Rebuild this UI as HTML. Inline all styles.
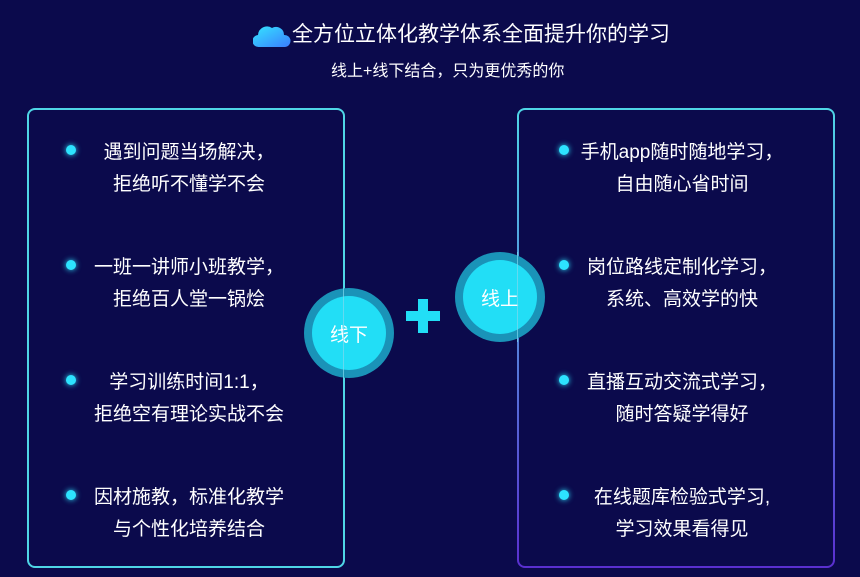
<!DOCTYPE html>
<html><head><meta charset="utf-8"><style>
body{margin:0;width:860px;height:577px;background:#0b0a4c;overflow:hidden;position:relative;font-family:"Liberation Sans","Noto Sans CJK SC",sans-serif;color:#fff}
.a{position:absolute}
.box{position:absolute;top:108px;width:318px;height:460px;border:2px solid #4fd6e6;border-radius:8px;box-sizing:border-box}
.box2{border:2px solid transparent;background:linear-gradient(#0b0a4c,#0b0a4c) padding-box,linear-gradient(#4fd6e6,#5a2fd0) border-box}
.t{position:absolute;width:250px;text-align:center;font-size:19px;line-height:32px}
.dot{position:absolute;width:10px;height:10px;border-radius:50%;background:#2de3ff;box-shadow:0 0 6px #2de3ff}
.c{position:absolute;border-radius:50%;background:#1a93b8}
.c div{position:absolute;left:8px;top:8px;right:8px;bottom:8px;border-radius:50%;background:#22def6;color:#fff;font-size:19px;display:flex;align-items:center;justify-content:center}
</style></head><body>
<svg class="a" style="left:253px;top:22px" width="38" height="26"><defs><linearGradient id="g" x1="0" y1="0" x2="1" y2="1"><stop offset="0" stop-color="#35e6ff"/><stop offset="1" stop-color="#3a7dff"/></linearGradient></defs><path d="M6 25 A6 6 0 0 1 5 13 A9 9 0 0 1 19 6 A8 8 0 0 1 31 13 A6 6 0 0 1 32 25 Z" fill="url(#g)"/></svg>
<div class="a" style="left:292px;top:20px;font-size:21px;line-height:30px">全方位立体化教学体系全面提升你的学习</div>
<div class="a" style="left:331px;top:60px;font-size:16px;line-height:24px">线上+线下结合，只为更优秀的你</div>
<div class="box" style="left:27px"></div>
<div class="box box2" style="left:517px"></div>
<div class="dot" style="left:66px;top:145px"></div><div class="t" style="left:64px;top:137px">遇到问题当场解决，<br>拒绝听不懂学不会</div>
<div class="dot" style="left:66px;top:260px"></div><div class="t" style="left:64px;top:252px">一班一讲师小班教学，<br>拒绝百人堂一锅烩</div>
<div class="dot" style="left:66px;top:375px"></div><div class="t" style="left:64px;top:367px">学习训练时间1:1，<br>拒绝空有理论实战不会</div>
<div class="dot" style="left:66px;top:490px"></div><div class="t" style="left:64px;top:482px">因材施教，标准化教学<br>与个性化培养结合</div>
<div class="dot" style="left:559px;top:145px"></div><div class="t" style="left:557px;top:137px">手机app随时随地学习，<br>自由随心省时间</div>
<div class="dot" style="left:559px;top:260px"></div><div class="t" style="left:557px;top:252px">岗位路线定制化学习，<br>系统、高效学的快</div>
<div class="dot" style="left:559px;top:375px"></div><div class="t" style="left:557px;top:367px">直播互动交流式学习，<br>随时答疑学得好</div>
<div class="dot" style="left:559px;top:490px"></div><div class="t" style="left:557px;top:482px">在线题库检验式学习,<br>学习效果看得见</div>
<div class="c" style="left:304px;top:288px;width:90px;height:90px"><div>线下</div></div>
<div class="c" style="left:455px;top:252px;width:90px;height:90px"><div>线上</div></div>
<div class="a" style="left:343px;top:288px;width:1px;height:90px;background:#7fd8ee;opacity:.7"></div>
<div class="a" style="left:517px;top:252px;width:1px;height:90px;background:#7fd8ee;opacity:.7"></div>
<div class="a" style="left:406px;top:311px;width:34px;height:10px;background:#22def6"></div>
<div class="a" style="left:418px;top:299px;width:10px;height:34px;background:#22def6"></div>
</body></html>
